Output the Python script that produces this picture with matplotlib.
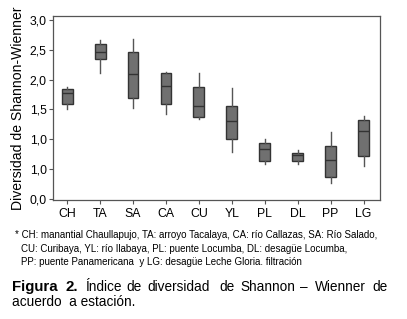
import matplotlib
matplotlib.use("Agg")
import matplotlib.pyplot as plt

stations = ["CH", "TA", "SA", "CA", "CU", "YL", "PL", "DL", "PP", "LG"]
whislo = [1.50, 2.12, 1.52, 1.42, 1.34, 0.79, 0.58, 0.59, 0.27, 0.55]
q1     = [1.60, 2.35, 1.69, 1.60, 1.37, 1.01, 0.64, 0.63, 0.36, 0.72]
med    = [1.78, 2.46, 2.09, 1.89, 1.56, 1.31, 0.83, 0.73, 0.65, 1.14]
q3     = [1.85, 2.60, 2.46, 2.11, 1.87, 1.56, 0.94, 0.77, 0.89, 1.32]
whishi = [1.87, 2.66, 2.68, 2.13, 2.11, 1.86, 1.01, 0.82, 1.13, 1.39]
ytick_vals = [0.0, 0.5, 1.0, 1.5, 2.0, 2.5, 3.0]
ytick_labels = ["0,0", "1,0", "1,0", "1,5", "2,0", "2,5", "3,0"]

footnote = ["* CH: manantial Chaullapujo, TA: arroyo Tacalaya, CA: río Callazas, SA: Río Salado,",
            "CU: Curibaya, YL: río Ilabaya, PL: puente Locumba, DL: desagüe Locumba,",
            "PP: puente Panamericana  y LG: desagüe Leche Gloria. filtración"]

plt.rcParams['font.family'] = ['Liberation Sans', 'DejaVu Sans']

W, H = 407, 319
fig = plt.figure(figsize=(W / 100, H / 100), dpi=100)
ax = fig.add_axes([53 / W, 1 - 200 / H, (380 - 53) / W, (200 - 16) / H])

stats = []
for i in range(len(stations)):
    stats.append(dict(label=stations[i], whislo=whislo[i], q1=q1[i], med=med[i],
                      q3=q3[i], whishi=whishi[i], fliers=[]))
ax.bxp(stats, positions=range(1, len(stations) + 1), widths=0.33,
       showcaps=False, showfliers=False, patch_artist=True,
       boxprops=dict(facecolor="#707070", edgecolor="#333333", linewidth=1.0),
       medianprops=dict(color="#333333", linewidth=1.0),
       whiskerprops=dict(color="#555555", linewidth=1.0))

ax.set_xlim(0.57, 10.5)
ax.set_ylim(-0.02, 3.07)
ax.set_yticks(ytick_vals)
ax.set_yticklabels(ytick_labels, fontsize=8.8)
ax.set_xticks(range(1, len(stations) + 1))
ax.set_xticklabels(stations, fontsize=8.8)
ax.tick_params(axis='both', length=3, width=0.8, color="#555555", pad=1.5)
ax.tick_params(axis='x', pad=2.5)
for s in ax.spines.values():
    s.set_color("#555555")
    s.set_linewidth(0.9)
ax.set_ylabel("Diversidad de Shannon-Wienner", fontsize=10.1, labelpad=3)

# footnote
fs_fn = 7.0
fig.text(15 / W, 1 - 235 / H, footnote[0], fontsize=fs_fn, va='center', ha='left')
fig.text(21 / W, 1 - 249 / H, footnote[1], fontsize=fs_fn, va='center', ha='left')
fig.text(21 / W, 1 - 262 / H, footnote[2], fontsize=fs_fn, va='center', ha='left')

# caption (justified line 1)
fs_cap = 9.8
fig.text(12 / W, 1 - 287 / H, "Figura", fontsize=10.8, fontweight='bold',
         va='center', ha='left')
fig.text(65 / W, 1 - 287 / H, "2.", fontsize=10.8, fontweight='bold',
         va='center', ha='left')
cap_words = ["Índice", "de", "diversidad", "de", "Shannon", "–", "Wienner", "de"]
cap_x = [85, 126, 147, 219, 240, 300, 315, 372]
for wd, x in zip(cap_words, cap_x):
    fig.text(x / W, 1 - 287 / H, wd, fontsize=fs_cap, va='center', ha='left')
fig.text(12 / W, 1 - 302 / H, "acuerdo  a estación.", fontsize=fs_cap,
         va='center', ha='left')

fig.savefig("out.png", dpi=100)
